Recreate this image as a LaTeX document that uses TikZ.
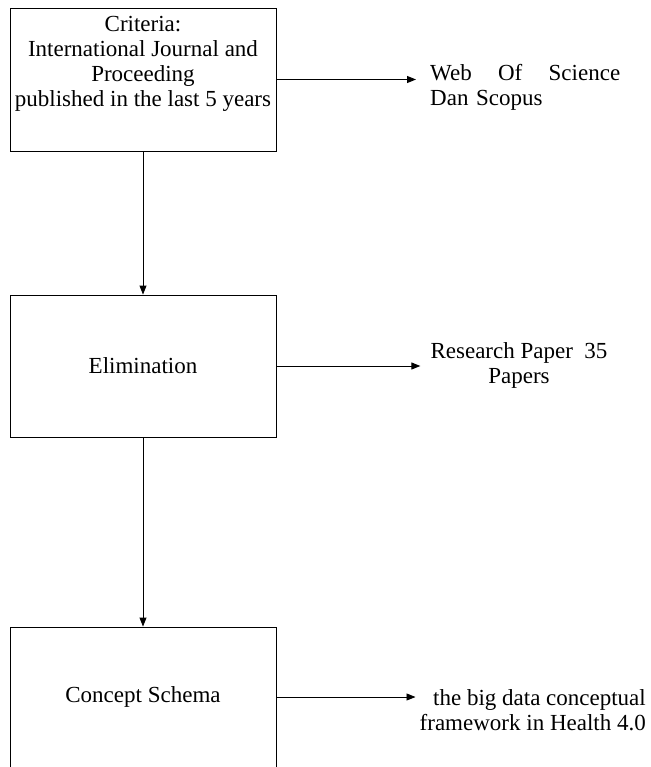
\documentclass[tikz,border=0pt]{standalone}
\usepackage{fontspec}
\setmainfont{Liberation Serif}
\usetikzlibrary{arrows.meta}

\tikzset{
  stagebox/.style={draw, line width=0.9pt, minimum width=266pt, align=center, inner sep=0pt},
  outtext/.style={inner sep=0pt},
  flow/.style={draw, line width=0.9pt, -{Triangle[length=9pt,width=7pt]}}
}

\begin{document}
\begin{tikzpicture}[x=1pt, y=-1pt, font=\fontsize{23}{25}\selectfont]

      \useasboundingbox (0,0) rectangle (650,767);
      \clip (0,0) rectangle (650,766);

      % Boxes
      \node[stagebox, minimum height=143pt] (crit) at (143,79.5) {};
      \node[align=center, anchor=north, inner sep=0pt] (crittext) at (143,16) {Criteria:\\International Journal and\\Proceeding\\published in the last 5 years};
      \node[stagebox, minimum height=142pt] (elim) at (143,366) {Elimination};
      \node[stagebox, minimum height=140pt] (concept) at (143,697) {Concept Schema};

      % Outputs
      \node[outtext, anchor=west, text width=190pt, align=left] (src) at (430,87) {Web\hfill Of\hfill Science\\Dan Scopus};
      \node[outtext, align=center] (papers) at (519,365) {Research Paper~~35\\Papers};
      \node[outtext, align=right, anchor=east] (frame) at (646,710) {the big data conceptual\\framework in Health 4.0};

      % Connectors
      \path[flow] (crit.south) -- (elim.north);
      \path[flow] (elim.south) -- (concept.north);
      \path[flow] (crit.east) -- ([xshift=-14pt]crit.east -| src.west);
      \path[flow] (elim.east) -- ([xshift=-10pt]elim.east -| papers.west);
      \path[flow] (concept.east) -- ([xshift=-4pt]concept.east -| frame.west);

    \end{tikzpicture}
\end{document}
